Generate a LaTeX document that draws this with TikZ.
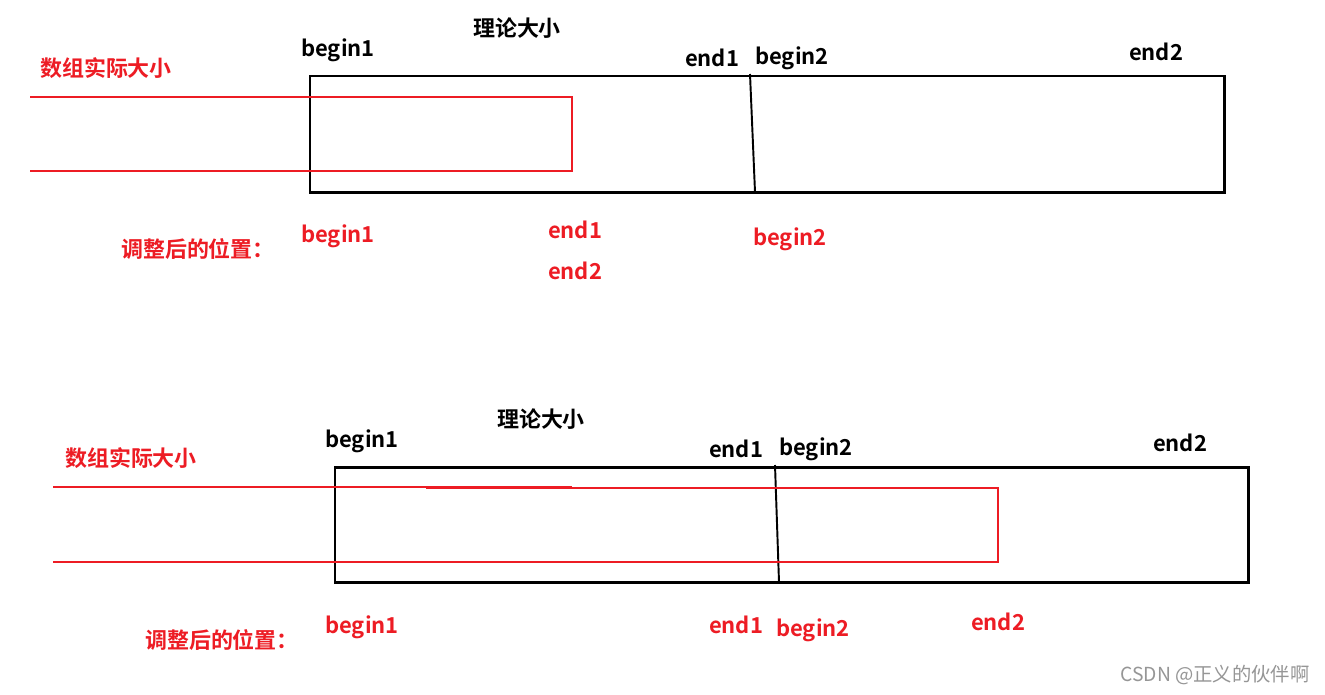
\documentclass[tikz,border=0pt]{standalone}
\usepackage{fontspec}
\setmainfont{Noto Sans CJK SC}
\newfontfamily\cjkb{Noto Sans CJK SC Bold}
\definecolor{pred}{RGB}{237,28,36}
\definecolor{wm}{RGB}{150,150,150}
\begin{document}
\begin{tikzpicture}[x=0.02cm,y=-0.02cm,
  lbl/.style={font=\cjkb\fontsize{12.5}{14}\selectfont,inner sep=0pt,anchor=center},
  rlbl/.style={lbl,text=pred},
  box/.style={draw=black,line width=1.7pt},
  divider/.style={draw=black,line width=1.1pt},
  rline/.style={draw=pred,line width=1.1pt}]
\useasboundingbox[fill=white] (0,0) rectangle (1325,694);

% ---------- top diagram ----------
\coordinate (t1) at (310,76);
\coordinate (t2) at (1224,192);
\draw[box] (t1) rectangle (t2);
\coordinate (td1) at (750,74);
\coordinate (td2) at (755,192);
\draw[divider] (td1) -- (td2);
\coordinate (ra) at (30,97);
\coordinate (rb) at (572,97);
\coordinate (rc) at (572,171);
\coordinate (rd) at (30,171);
\draw[rline] (ra) -- (rb) -- (rc) -- (rd);

\node[lbl] (tsize) at (517,28) {理论大小};
\node[lbl] (tb1) at (338,50) {begin1};
\node[lbl] (te1) at (712,58) {end1};
\node[lbl] (tb2) at (792,58) {begin2};
\node[lbl] (te2) at (1156,52) {end2};
\node[rlbl] (tact) at (106,68) {数组实际大小};
\node[rlbl] (tadj) at (198,249) {调整后的位置：};
\node[rlbl] (rtb1) at (338,236) {begin1};
\node[rlbl] (rte1) at (575,230) {end1};
\node[rlbl] (rte2) at (575,271) {end2};
\node[rlbl] (rtb2) at (790,239) {begin2};

% ---------- bottom diagram ----------
\coordinate (b1) at (335,467);
\coordinate (b2) at (1248,582);
\draw[box] (b1) rectangle (b2);
\coordinate (bd1) at (775,465);
\coordinate (bd2) at (779,582);
\draw[divider] (bd1) -- (bd2);
\coordinate (sa) at (53,487);
\coordinate (sb) at (572,487);
\coordinate (sc) at (53,562);
\coordinate (sd) at (572,562);
\draw[rline] (sa) -- (sb);
\draw[rline] (sc) -- (sd);
\coordinate (qa) at (426,488);
\coordinate (qb) at (998,488);
\coordinate (qc) at (998,562);
\coordinate (qd) at (426,562);
\draw[rline] (qa) -- (qb) -- (qc) -- (qd);

\node[lbl] (bsize) at (541,419) {理论大小};
\node[lbl] (bb1) at (362,441) {begin1};
\node[lbl] (be1) at (736,449) {end1};
\node[lbl] (bb2) at (816,449) {begin2};
\node[lbl] (be2) at (1180,443) {end2};
\node[rlbl] (bact) at (131,458) {数组实际大小};
\node[rlbl] (badj) at (222,640) {调整后的位置：};
\node[rlbl] (rbb1) at (362,627) {begin1};
\node[rlbl] (rbe1) at (736,625) {end1};
\node[rlbl] (rbb2) at (813,630) {begin2};
\node[rlbl] (rbe2) at (998,622) {end2};

\node[inner sep=0pt,text=wm,font=\fontsize{11}{13}\selectfont] (wmark) at (1215,675) {CSDN @正义的伙伴啊};
\end{tikzpicture}
\end{document}
